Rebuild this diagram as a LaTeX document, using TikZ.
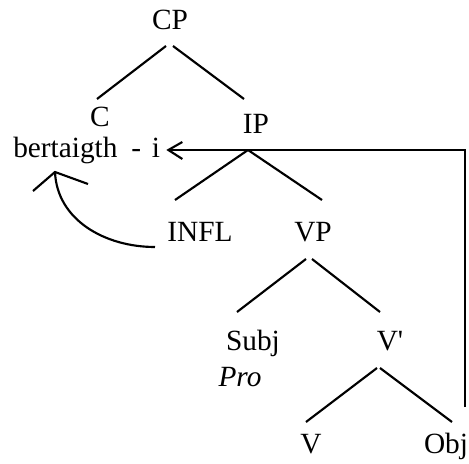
\documentclass[tikz,border=0pt]{standalone}
\usepackage{fontspec}
\setmainfont{Liberation Serif}
\usetikzlibrary{calc}
\begin{document}
\begin{tikzpicture}[x=0.75pt,y=-0.75pt,
  lab/.style={inner sep=0pt,anchor=base,font=\fontsize{22}{26}\selectfont},
  br/.style={line width=1.6pt},
  mv/.style={line width=1.6pt}]
\useasboundingbox (0,0) rectangle (469,464);
% nodes
\node[lab] (CP) at (170,30) {CP};
\node[lab] (C) at (100,127) {C};
\node[lab,anchor=base west] (bert) at (13,157) {bertaigth\hspace{0.47em}-\hspace{0.37em}i};
\node[lab] (IP) at (256,133) {IP};
\node[lab] (INFL) at (200,242) {INFL};
\node[lab] (VP) at (313,242) {VP};
\node[lab] (Subj) at (253,350) {Subj};
\node[lab,font=\fontsize{22}{26}\selectfont\itshape] (Pro) at (240,386) {Pro};
\node[lab] (Vp) at (390,350) {V\textquotesingle};
\node[lab] (V) at (311,453) {V};
\node[lab] (Obj) at (446,453) {Obj};
% tree branches
\draw[br] ($(CP.base)+(-4,16)$) -- ($(C.base)+(-3,-28)$);
\draw[br] ($(CP.base)+(3,16)$) -- ($(IP.base)+(-12,-34)$);
\draw[br] ($(IP.base)+(-8,17)$) -- ($(INFL.base)+(-25,-42)$);
\draw[br] ($(IP.base)+(-8,17)$) -- ($(VP.base)+(9,-42)$);
\draw[br] ($(VP.base)+(-7,17)$) -- ($(Subj.base)+(-16,-38)$);
\draw[br] ($(VP.base)+(-1,17)$) -- ($(Vp.base)+(-10,-38)$);
\draw[br] ($(Vp.base)+(-13,18)$) -- ($(V.base)+(-5,-31)$);
\draw[br] ($(Vp.base)+(-10,18)$) -- ($(Obj.base)+(6,-31)$);
% movement of Obj to C
\coordinate (tipA) at ($(bert.base east)+(8,-7)$);
\draw[mv] ($(Obj.base)+(19,-46)$) |- (tipA);
\draw[mv] ($(tipA)+(14,-8)$) -- (tipA) -- ($(tipA)+(14,9)$);
% movement of INFL to C
\coordinate (tipB) at ($(bert.base west)+(42,15)$);
\coordinate (infl0) at ($(INFL.base)+(-45,5)$);
\draw[mv] (infl0) .. controls ($(infl0)+(-50,0)$) and ($(tipB)+(2,48)$) .. (tipB);
\draw[mv] ($(tipB)+(-22,19)$) -- (tipB) -- ($(tipB)+(33,12)$);
\end{tikzpicture}
\end{document}
